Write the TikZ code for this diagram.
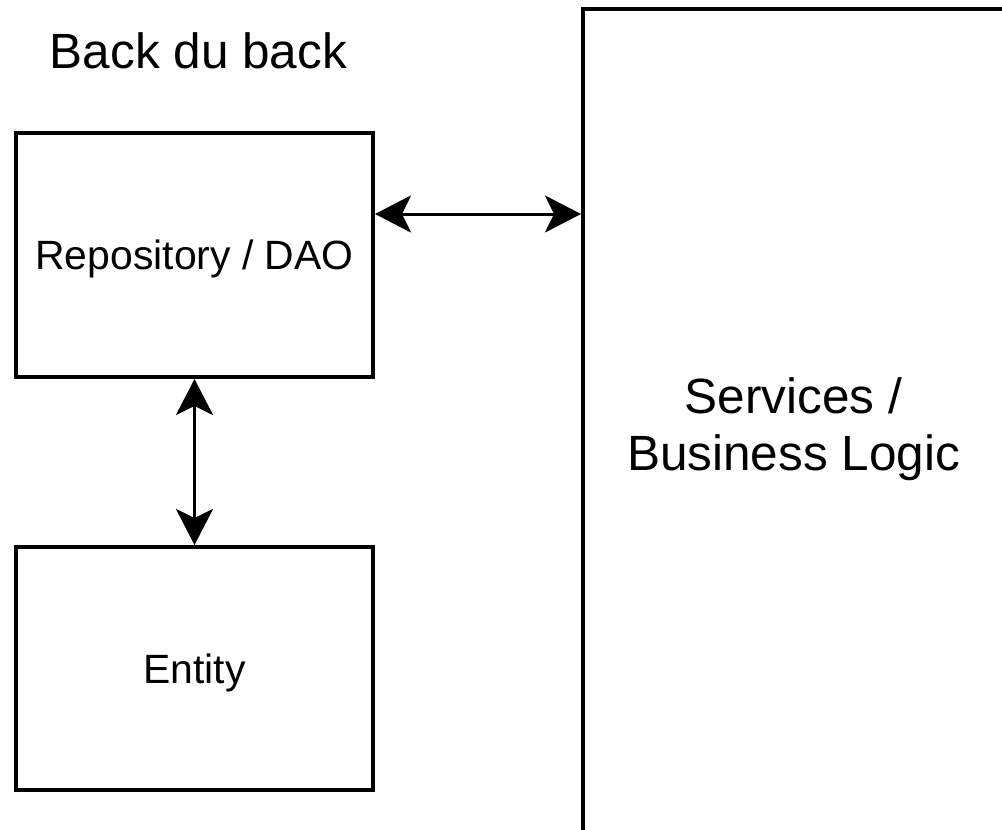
\documentclass[tikz,border=0pt]{standalone}
\usepackage{fontspec}
\setmainfont{Liberation Sans}
\usepackage{tikz}
\usetikzlibrary{arrows.meta}

\begin{document}
\begin{tikzpicture} [x = 1pt, y = -1pt,
    box/.style = {draw, line width = 4pt, rectangle, inner sep = 0, text depth = 0, align = center},
    big/.style = {font = \fontsize{49.5}{57}\selectfont},
    small/.style = {font = \fontsize{40.9}{47}\selectfont},
    link/.style = {line width = 3pt, {Stealth[length = 36pt, width = 37pt, inset = 9pt]}-{Stealth[length = 36pt, width = 37pt, inset = 9pt]}}]
    \clip (0, 0) rectangle (1002, 830);
    \fill[white] (0, 0) rectangle (1002, 830);

    \node[big, anchor = base] (title) at (198.5, 68) {Back du back};
    \node[box, small, minimum width = 357pt, minimum height = 244pt] (repo) at (194.5, 255) {Repository / DAO};
    \node[box, small, minimum width = 357pt, minimum height = 243pt] (entity) at (194.5, 668.5) {Entity};
    \node[box, big, minimum width = 421pt, minimum height = 831pt] (svc) at (793.5, 424.5) {Services /\\Business Logic};

    \draw[link] ([yshift = 41pt]repo.east) -- ([yshift = 41pt]repo.east -| svc.west);
    \draw[link] (repo.south) -- (entity.north);
\end{tikzpicture}
\end{document}
